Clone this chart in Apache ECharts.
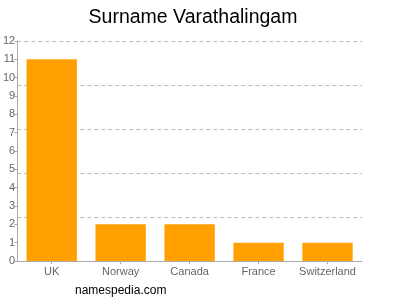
<!DOCTYPE html>
<html><head><meta charset="utf-8">
<script src="https://cdn.jsdelivr.net/npm/echarts@6/dist/echarts.min.js"></script>
<style>html,body{margin:0;padding:0;background:#fff}#c{width:400px;height:300px}</style>
</head><body><div id="c"></div>
<script>
const categories = ['UK', 'Norway', 'Canada', 'France', 'Switzerland'];
const counts = [11, 2, 2, 1, 1];
const yTicks = [0, 1, 2, 3, 4, 5, 6, 7, 8, 9, 10, 11, 12];

const chart = echarts.init(document.getElementById('c'), null, {renderer: 'canvas'});
chart.setOption({
  animation: false,
  backgroundColor: '#fff',
  title: {
    text: 'Surname Varathalingam', left: 188, top: 3, textAlign: 'center',
    textStyle: {fontFamily: 'Liberation Sans', fontSize: 19.5, fontWeight: 'normal', color: '#000'}
  },
  graphic: [{
    type: 'text', left: 75, top: 285,
    style: {text: 'namespedia.com', fontFamily: 'Liberation Sans', fontSize: 12, fill: '#000'}
  }],
  grid: {left: 17, right: 38, top: 41, bottom: 39, containLabel: false},
  xAxis: {
    type: 'category', data: categories,
    axisLine: {lineStyle: {color: '#aaa'}},
    axisTick: {show: true, alignWithLabel: true, length: 3, lineStyle: {color: '#aaa'}},
    axisLabel: {interval: 0, color: '#666', fontFamily: 'Liberation Sans', fontSize: 11, margin: 5}
  },
  yAxis: [{
    type: 'value', min: yTicks[0], max: yTicks[yTicks.length - 1], interval: 1,
    axisLine: {show: true, lineStyle: {color: '#aaa'}},
    axisTick: {show: true, length: 3, lineStyle: {color: '#aaa'}},
    axisLabel: {color: '#666', fontFamily: 'Liberation Sans', fontSize: 11, margin: 2},
    splitLine: {show: false}
  }, {
    type: 'value', min: 0, max: 12, interval: 2.4, position: 'left',
    axisLine: {show: false}, axisTick: {show: false}, axisLabel: {show: false},
    splitLine: {show: true, lineStyle: {color: '#bbb', type: [4, 3], width: 1}}
  }],
  series: [{
    type: 'bar', data: counts, yAxisIndex: 0,
    barCategoryGap: '27%',
    itemStyle: {color: '#ffa000'}
  }]
});
</script></body></html>
